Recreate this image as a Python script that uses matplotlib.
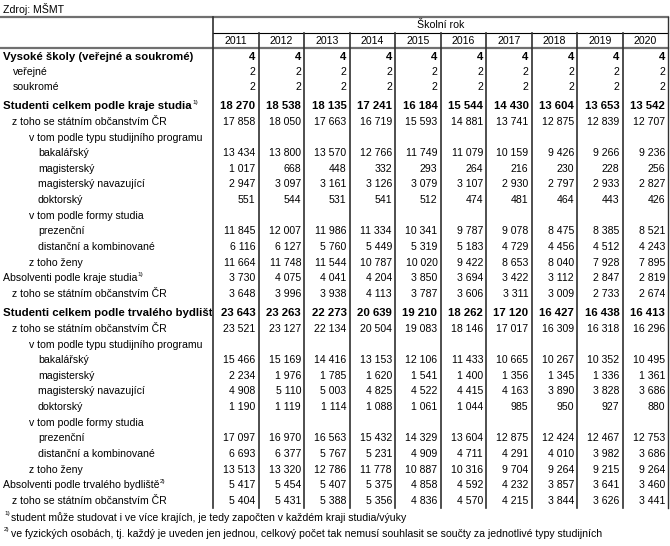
import matplotlib
matplotlib.use("Agg")
import matplotlib.pyplot as plt
from matplotlib.patches import Rectangle

# Données : vysoké školy, studenti a absolventi (zdroj MŠMT)
roky = [2011, 2012, 2013, 2014, 2015, 2016, 2017, 2018, 2019, 2020]

skoly_celkem = [4, 4, 4, 4, 4, 4, 4, 4, 4, 4]
skoly_verejne = [2, 2, 2, 2, 2, 2, 2, 2, 2, 2]
skoly_soukrome = [2, 2, 2, 2, 2, 2, 2, 2, 2, 2]

# podle kraje studia
kraj_celkem = [18270, 18538, 18135, 17241, 16184, 15544, 14430, 13604, 13653, 13542]
kraj_cr = [17858, 18050, 17663, 16719, 15593, 14881, 13741, 12875, 12839, 12707]
kraj_bak = [13434, 13800, 13570, 12766, 11749, 11079, 10159, 9426, 9266, 9236]
kraj_mag = [1017, 668, 448, 332, 293, 264, 216, 230, 228, 256]
kraj_nav = [2947, 3097, 3161, 3126, 3079, 3107, 2930, 2797, 2933, 2827]
kraj_dok = [551, 544, 531, 541, 512, 474, 481, 464, 443, 426]
kraj_prez = [11845, 12007, 11986, 11334, 10341, 9787, 9078, 8475, 8385, 8521]
kraj_dist = [6116, 6127, 5760, 5449, 5319, 5183, 4729, 4456, 4512, 4243]
kraj_zeny = [11664, 11748, 11544, 10787, 10020, 9422, 8653, 8040, 7928, 7895]
kraj_abs = [3730, 4075, 4041, 4204, 3850, 3694, 3422, 3112, 2847, 2819]
kraj_abs_cr = [3648, 3996, 3938, 4113, 3787, 3606, 3311, 3009, 2733, 2674]

# podle trvalého bydliště
byd_celkem = [23643, 23263, 22273, 20639, 19210, 18262, 17120, 16427, 16438, 16413]
byd_cr = [23521, 23127, 22134, 20504, 19083, 18146, 17017, 16309, 16318, 16296]
byd_bak = [15466, 15169, 14416, 13153, 12106, 11433, 10665, 10267, 10352, 10495]
byd_mag = [2234, 1976, 1785, 1620, 1541, 1400, 1356, 1345, 1336, 1361]
byd_nav = [4908, 5110, 5003, 4825, 4522, 4415, 4163, 3890, 3828, 3686]
byd_dok = [1190, 1119, 1114, 1088, 1061, 1044, 985, 950, 927, 880]
byd_prez = [17097, 16970, 16563, 15432, 14329, 13604, 12875, 12424, 12467, 12753]
byd_dist = [6693, 6377, 5767, 5231, 4909, 4711, 4291, 4010, 3982, 3686]
byd_zeny = [13513, 13320, 12786, 11778, 10887, 10316, 9704, 9264, 9215, 9264]
byd_abs = [5417, 5454, 5407, 5375, 4858, 4592, 4232, 3857, 3641, 3460]
byd_abs_cr = [5404, 5431, 5388, 5356, 4836, 4570, 4215, 3844, 3626, 3441]

poznamka1 = "student může studovat i ve více krajích, je tedy započten v každém kraji studia/výuky"
poznamka2 = ("ve fyzických osobách, tj. každý je uveden jen jednou, celkový počet tak nemusí "
             "souhlasit se součty za jednotlivé typy studijních")

# (popisek, odsazení, tučně, hodnoty, poznámka, y)
radky = [
    ("Vysoké školy (veřejné a soukromé)", 3, True, skoly_celkem, None, 57),
    ("veřejné", 13, False, skoly_verejne, None, 72),
    ("soukromé", 13, False, skoly_soukrome, None, 87),
    ("Studenti celkem podle kraje studia", 3, True, kraj_celkem, "1)", 106),
    ("z toho se státním občanstvím ČR", 12, False, kraj_cr, None, 122),
    ("v tom podle typu studijního programu", 29, False, None, None, 138),
    ("bakalářský", 38, False, kraj_bak, None, 153),
    ("magisterský", 38, False, kraj_mag, None, 169),
    ("magisterský navazující", 38, False, kraj_nav, None, 184),
    ("doktorský", 38, False, kraj_dok, None, 200),
    ("v tom podle formy studia", 29, False, None, None, 216),
    ("prezenční", 38, False, kraj_prez, None, 231),
    ("distanční a kombinované", 38, False, kraj_dist, None, 247),
    ("z toho ženy", 29, False, kraj_zeny, None, 263),
    ("Absolventi podle kraje studia", 3, False, kraj_abs, "1)", 278),
    ("z toho se státním občanstvím ČR", 12, False, kraj_abs_cr, None, 294),
    ("Studenti celkem podle trvalého bydliště", 3, True, byd_celkem, None, 313),
    ("z toho se státním občanstvím ČR", 12, False, byd_cr, None, 329),
    ("v tom podle typu studijního programu", 29, False, None, None, 345),
    ("bakalářský", 38, False, byd_bak, None, 360),
    ("magisterský", 38, False, byd_mag, None, 376),
    ("magisterský navazující", 38, False, byd_nav, None, 391),
    ("doktorský", 38, False, byd_dok, None, 407),
    ("v tom podle formy studia", 29, False, None, None, 423),
    ("prezenční", 38, False, byd_prez, None, 438),
    ("distanční a kombinované", 38, False, byd_dist, None, 454),
    ("z toho ženy", 29, False, byd_zeny, None, 470),
    ("Absolventi podle trvalého bydliště", 3, False, byd_abs, "2)", 485),
    ("z toho se státním občanstvím ČR", 12, False, byd_abs_cr, None, 501),
]

W, H = 670, 546
fig = plt.figure(figsize=(W / 100, H / 100), dpi=100)
ax = fig.add_axes([0, 0, 1, 1])
ax.set_xlim(0, W)
ax.set_ylim(H, 0)
ax.axis("off")
plt.rcParams["font.family"] = ["Liberation Sans", "DejaVu Sans"]
fs = 7.6
fs_b = 8.2

x0 = 213
x1 = 668
sirka = (x1 - x0) / len(roky)
bottom = 508


def cislo(v):
    return f"{v:,}".replace(",", " ")


renderer = fig.canvas.get_renderer()

# zone des libellés (le texte trop long est coupé par la ligne verticale)
zone_popisku = Rectangle((0, 0), x0 - 1, H, transform=ax.transData)

ax.text(3, 9, "Zdroj: MŠMT", fontsize=fs, va="center", ha="left")

# Lignes horizontales
ax.plot([0, x1], [17, 17], color="#707070", lw=1.6)
ax.plot([x0, x1], [32.5, 32.5], color="black", lw=0.8)
ax.plot([0, x1], [48, 48], color="#707070", lw=1.6)

# Lignes verticales
ax.plot([x0, x0], [17, bottom], color="#303030", lw=1.2)
ax.plot([x1, x1], [17, bottom], color="#303030", lw=1.0)
for i in range(1, len(roky)):
    xv = x0 + i * sirka
    ax.plot([xv, xv], [32.5, bottom], color="#303030", lw=1.2)

ax.text((x0 + x1) / 2, 25, "Školní rok", fontsize=fs, ha="center", va="center")
for i, rok in enumerate(roky):
    ax.text(x0 + (i + 0.5) * sirka, 40.5, str(rok), fontsize=fs, ha="center", va="center")

for popisek, odsazeni, tucne, hodnoty, pozn, y in radky:
    vaha = "bold" if tucne else "normal"
    velikost = fs_b if tucne else fs
    t = ax.text(odsazeni, y, popisek, fontsize=velikost, fontweight=vaha, ha="left", va="center")
    t.set_clip_path(zone_popisku)
    t.set_clip_on(True)
    if pozn:
        bb = t.get_window_extent(renderer=renderer)
        ax.text(bb.x1 + 0.5, y - 3.5, pozn, fontsize=4.6, ha="left", va="center")
    if hodnoty is not None:
        for i, v in enumerate(hodnoty):
            ax.text(x0 + (i + 1) * sirka - 3, y, cislo(v), fontsize=velikost, fontweight=vaha,
                    ha="right", va="center")

# Poznámky
ax.text(4, 514, "1)", fontsize=4.6, ha="left", va="center")
ax.text(11, 518, poznamka1, fontsize=fs, ha="left", va="center")
ax.text(4, 530, "2)", fontsize=4.6, ha="left", va="center")
ax.text(11, 534, poznamka2, fontsize=fs, ha="left", va="center")

fig.savefig("out.png", dpi=100)
